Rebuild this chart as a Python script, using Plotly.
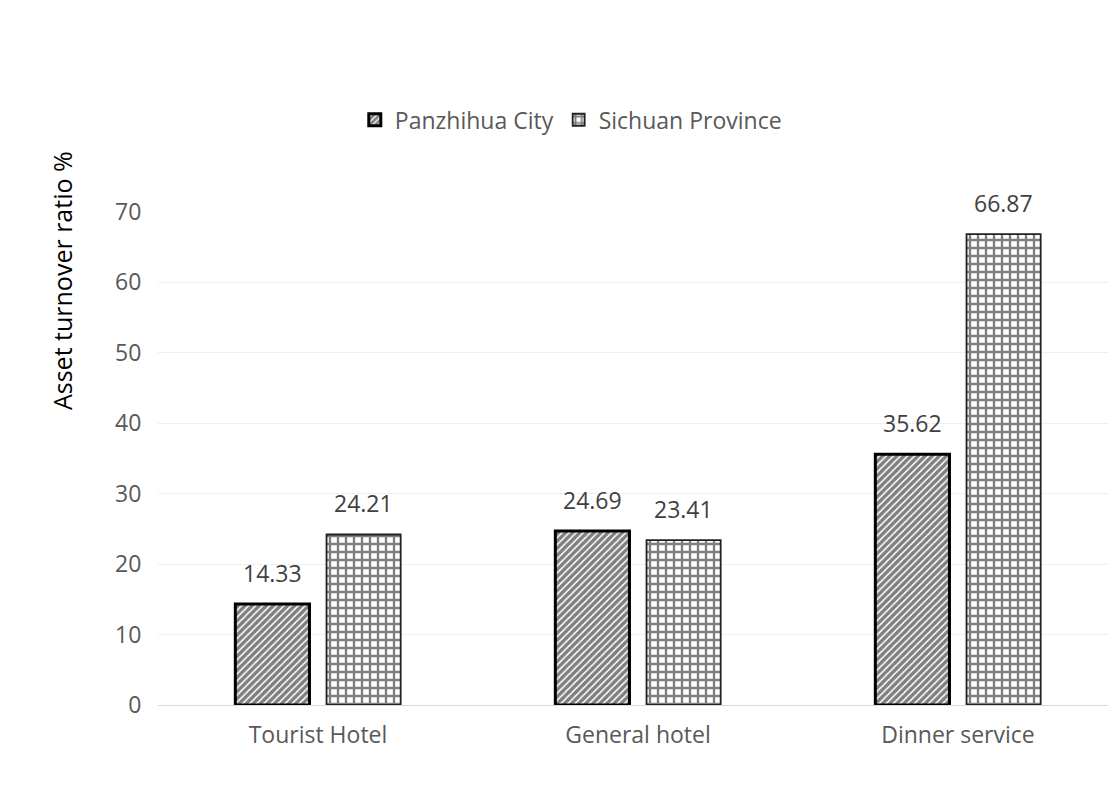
import plotly.graph_objects as go

categories = ["Tourist Hotel", "General hotel", "Dinner service"]
panzhihua = [14.33, 24.69, 35.62]
sichuan = [24.21, 23.41, 66.87]
series_names = ["Panzhihua City", "Sichuan Province"]
y_ticks = [0, 10, 20, 30, 40, 50, 60, 70]
y_title = "Asset turnover ratio %"

FONT = "Open Sans"
BAR_OFFSET = 45.5  # half of a bar slot in px

fig = go.Figure()
fig.add_trace(go.Bar(
    name=series_names[0], x=categories, y=panzhihua,
    marker=dict(color="white", line=dict(color="black", width=3),
                pattern=dict(shape="/", fgcolor="black", bgcolor="white", size=5, solidity=0.7)),
))
fig.add_trace(go.Bar(
    name=series_names[1], x=categories, y=sichuan,
    marker=dict(color="white", line=dict(color="#222222", width=1.8),
                pattern=dict(shape="+", fgcolor="black", bgcolor="white", size=8, solidity=0.5)),
))

for vals, sign in ((panzhihua, -1), (sichuan, 1)):
    for cat, v in zip(categories, vals):
        fig.add_annotation(x=cat, y=v, xshift=sign * BAR_OFFSET, yshift=31,
                           text=f"{v:.2f}", showarrow=False, yanchor="middle",
                           font=dict(family=FONT, size=23, color="#404040"))

fig.add_annotation(xref="paper", yref="paper", x=0, y=0.86, xshift=-96,
                   text=y_title, textangle=-90, showarrow=False,
                   xanchor="center", yanchor="middle",
                   font=dict(family=FONT, size=25, color="black"))

fig.update_layout(
    width=1116, height=800,
    margin=dict(l=150, r=6, t=204, b=103),
    paper_bgcolor="white", plot_bgcolor="white",
    barmode="group", bargap=0.43, bargroupgap=0.187,
    font=dict(family=FONT, color="#595959"),
    legend=dict(orientation="h", x=0.43, xanchor="center", y=1.187, yanchor="middle",
                font=dict(family=FONT, size=23, color="#595959"),
                itemwidth=30, tracegroupgap=0),
    xaxis=dict(showgrid=False, showline=True, linecolor="#d9d9d9", linewidth=1,
               tickfont=dict(family=FONT, size=23, color="#595959"),
               ticks="outside", ticklen=9, tickcolor="rgba(0,0,0,0)"),
    yaxis=dict(range=[0, 70], tickvals=y_ticks, showgrid=True, gridcolor="#efefef",
               zeroline=False, showline=False,
               tickfont=dict(family=FONT, size=23, color="#595959"),
               ticks="outside", ticklen=11, tickcolor="rgba(0,0,0,0)"),
)

fig.write_html("out.html")
